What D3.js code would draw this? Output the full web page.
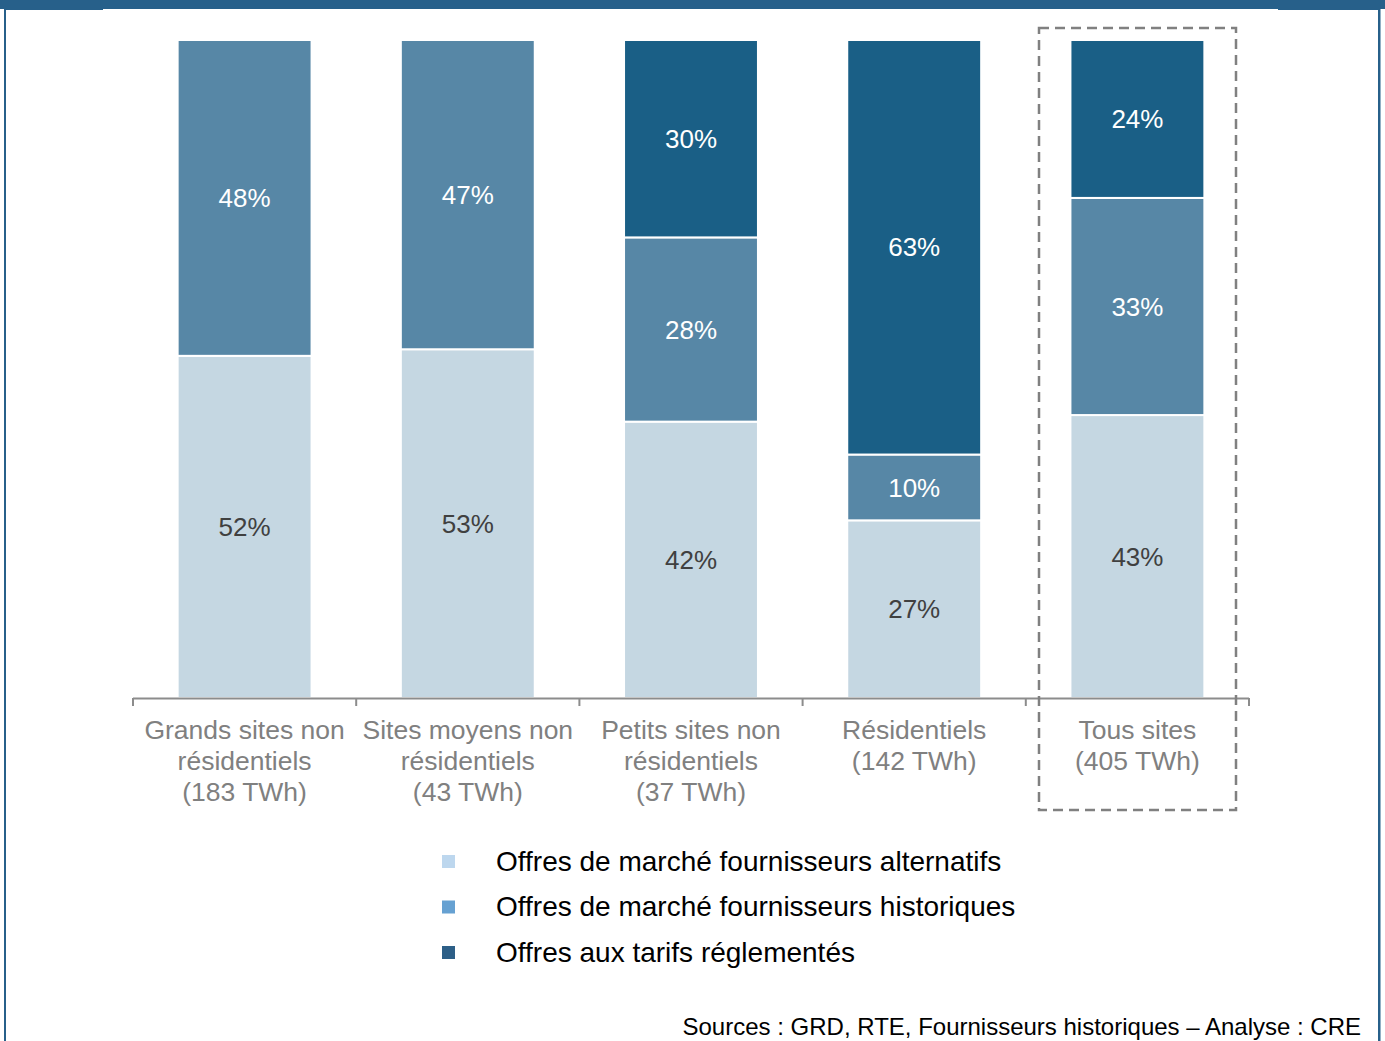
<!DOCTYPE html>
<html>
<head>
    <meta charset="utf-8" />
    <title>Offres par segment</title>
    <script src="https://cdn.jsdelivr.net/npm/d3@7"></script>
    <style>
        body { margin: 0; background: #fff; }
        svg { display: block; font-family: "Liberation Sans", Arial, sans-serif; }
    </style>
</head>
<body>
    <script>

        // categories (one array entry per text line)
        let categories = [
            ['Grands sites non', 'résidentiels', '(183 TWh)'],
            ['Sites moyens non', 'résidentiels', '(43 TWh)'],
            ['Petits sites non', 'résidentiels', '(37 TWh)'],
            ['Résidentiels', '(142 TWh)'],
            ['Tous sites', '(405 TWh)']
        ]

        // shares in %, bottom to top
        let alternatifs = [52, 53, 42, 27, 43]
        let historiques = [48, 47, 28, 10, 33]
        let reglementes = [0, 0, 30, 63, 24]

        let seriesNames = [
            'Offres de marché fournisseurs alternatifs',
            'Offres de marché fournisseurs historiques',
            'Offres aux tarifs réglementés'
        ]

        let width = 1385,
            height = 1041,
            margin = { top: 40, left: 133, right: 136, bottom: 343 },
            innerW = width - margin.left - margin.right,
            innerH = height - margin.top - margin.bottom

        let barColors = ['#c5d7e2', '#5787a6', '#1a5f86'],
            legendColors = ['#bdd7ee', '#66a1d2', '#2d5f87'],
            labelColors = ['#404040', '#ffffff', '#ffffff']

        let svg = d3.select('body')
                    .append('svg')
                    .attr('width', width)
                    .attr('height', height)

        // frame
        let frameColor = '#27608a'
        svg.append('rect').attr('x', 0).attr('y', 0).attr('width', width).attr('height', 9).attr('fill', frameColor)
        svg.append('rect').attr('x', 4).attr('y', 0).attr('width', 99).attr('height', 10).attr('fill', frameColor)
        svg.append('rect').attr('x', 1278).attr('y', 0).attr('width', 102).attr('height', 10).attr('fill', frameColor)
        svg.append('rect').attr('x', 4).attr('y', 0).attr('width', 2).attr('height', height).attr('fill', frameColor)
        svg.append('rect').attr('x', 1378).attr('y', 0).attr('width', 2.5).attr('height', height).attr('fill', frameColor)

        let g = svg.append('g')
                    .attr('transform', `translate(${margin.left}, ${margin.top})`)

        let x = d3.scaleBand()
                    .domain(d3.range(categories.length))
                    .range([0, innerW])
                    .paddingInner(0.4)
                    .paddingOuter(0.2)

        let y = d3.scaleLinear()
                    .domain([0, 100])
                    .range([innerH, 0])

        let rows = categories.map(function (c, i) {
            return { idx: i, alt: alternatifs[i], hist: historiques[i], reg: reglementes[i] }
        })

        let stack = d3.stack().keys(['alt', 'hist', 'reg'])
        let layers = stack(rows)

        let layerG = g.selectAll('g.layer')
                    .data(layers)
                    .enter()
                    .append('g')
                    .classed('layer', true)
                    .attr('fill', function (d, i) { return barColors[i] })

        layerG.selectAll('rect')
                .data(function (d) { return d.filter(function (p) { return p[1] > p[0] }) })
                .enter()
                .append('rect')
                .attr('x', function (d) { return x(d.data.idx) })
                .attr('y', function (d) { return y(d[1]) })
                .attr('width', x.bandwidth())
                .attr('height', function (d) { return y(d[0]) - y(d[1]) })
                .attr('stroke', '#fff')
                .attr('stroke-width', 2)

        layerG.selectAll('text')
                .data(function (d, li) {
                    return d.filter(function (p) { return p[1] > p[0] })
                            .map(function (p) { return { p: p, li: li } })
                })
                .enter()
                .append('text')
                .attr('x', function (d) { return x(d.p.data.idx) + x.bandwidth() / 2 })
                .attr('y', function (d) { return (y(d.p[0]) + y(d.p[1])) / 2 })
                .attr('dy', '0.35em')
                .attr('text-anchor', 'middle')
                .attr('font-size', 26)
                .attr('fill', function (d) { return labelColors[d.li] })
                .text(function (d) { return Math.round(d.p[1] - d.p[0]) + '%' })

        // axis
        let axisG = g.append('g').attr('transform', `translate(0, ${innerH})`)
        axisG.append('line')
                .attr('x1', 0).attr('x2', innerW)
                .attr('y1', 0.5).attr('y2', 0.5)
                .attr('stroke', '#8c8c8c').attr('stroke-width', 2)
        let step = x.step()
        axisG.selectAll('line.tick')
                .data(d3.range(categories.length + 1))
                .enter()
                .append('line')
                .classed('tick', true)
                .attr('x1', function (d) { return d * step })
                .attr('x2', function (d) { return d * step })
                .attr('y1', 0).attr('y2', 8)
                .attr('stroke', '#8c8c8c').attr('stroke-width', 2)

        let catText = axisG.selectAll('text.cat')
                .data(categories)
                .enter()
                .append('text')
                .classed('cat', true)
                .attr('text-anchor', 'middle')
                .attr('font-size', 26.5)
                .attr('fill', '#808080')
        catText.selectAll('tspan')
                .data(function (d, i) { return d.map(function (t) { return { t: t, i: i } }) })
                .enter()
                .append('tspan')
                .attr('x', function (d) { return x(d.i) + x.bandwidth() / 2 })
                .attr('y', function (d, j) { return 41 + j * 31 })
                .text(function (d) { return d.t })

        // dashed box around "Tous sites"
        svg.append('rect')
                .attr('x', 1039).attr('y', 28)
                .attr('width', 197).attr('height', 782)
                .attr('fill', 'none')
                .attr('stroke', '#808080')
                .attr('stroke-width', 2.5)
                .attr('stroke-dasharray', '10,6')

        // legend
        let legend = svg.append('g').attr('transform', 'translate(442, 861)')
        let item = legend.selectAll('g')
                .data(seriesNames)
                .enter()
                .append('g')
                .attr('transform', function (d, i) { return `translate(0, ${i * 45.5})` })
        item.append('rect')
                .attr('x', 0).attr('y', -6)
                .attr('width', 13).attr('height', 13)
                .attr('fill', function (d, i) { return legendColors[i] })
        item.append('text')
                .attr('x', 54).attr('dy', '0.35em')
                .attr('font-size', 28)
                .attr('fill', '#000')
                .text(function (d) { return d })

        svg.append('text')
                .attr('x', 1361).attr('y', 1035)
                .attr('text-anchor', 'end')
                .attr('font-size', 24)
                .attr('fill', '#000')
                .text('Sources : GRD, RTE, Fournisseurs historiques – Analyse : CRE')

    </script>
</body>
</html>
